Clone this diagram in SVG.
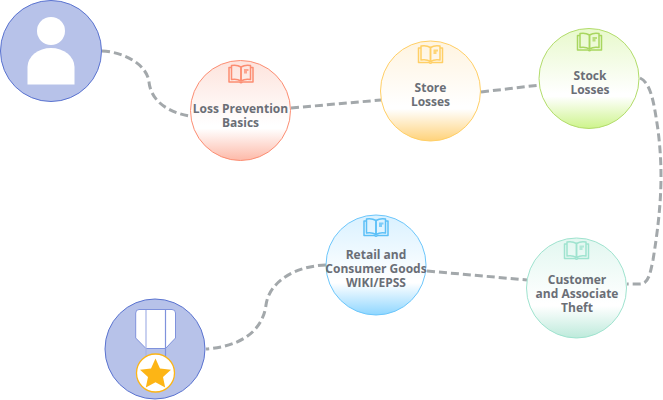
<svg xmlns="http://www.w3.org/2000/svg" width="663" height="400" viewBox="0 0 663 400">
<style>
.t{font-family:"Open Sans",sans-serif;font-weight:700;font-size:12px;fill:#6a6e76;text-anchor:middle}
.c{fill:none;stroke:#a3a8ab;stroke-width:3;stroke-dasharray:8 4}
.b{fill:none;stroke-width:1.500;stroke-linejoin:round}
.av{fill:#b7c2e9;stroke:#5a73d0;stroke-width:1}
</style>
<defs>
<linearGradient id="gr" x1="0" y1="0" x2="0" y2="1"><stop offset="0" stop-color="#fde3dc"/><stop offset=".65" stop-color="#fff"/><stop offset=".68" stop-color="#fff"/><stop offset="1" stop-color="#fdb9a8"/></linearGradient>
<linearGradient id="gy" x1="0" y1="0" x2="0" y2="1"><stop offset="0" stop-color="#fff4e0"/><stop offset=".65" stop-color="#fff"/><stop offset=".68" stop-color="#fff"/><stop offset="1" stop-color="#ffd27a"/></linearGradient>
<linearGradient id="gg" x1="0" y1="0" x2="0" y2="1"><stop offset="0" stop-color="#e8f9cc"/><stop offset=".65" stop-color="#fff"/><stop offset=".68" stop-color="#fff"/><stop offset="1" stop-color="#cdf48b"/></linearGradient>
<linearGradient id="gt" x1="0" y1="0" x2="0" y2="1"><stop offset="0" stop-color="#e2f7f0"/><stop offset=".65" stop-color="#fff"/><stop offset=".68" stop-color="#fff"/><stop offset="1" stop-color="#bdeadb"/></linearGradient>
<linearGradient id="gb" x1="0" y1="0" x2="0" y2="1"><stop offset="0" stop-color="#d9f1ff"/><stop offset=".65" stop-color="#fff"/><stop offset=".68" stop-color="#fff"/><stop offset="1" stop-color="#8ed6ff"/></linearGradient>
<g id="book">
<path class="b" d="M-9.500 -7H-12V7.500H-1.500Q0 9 1.500 7.500H12V-7H9.500"/>
<path class="b" d="M-9.500 -9Q-4 -10 0 -7.500V6.500Q-4 4 -9.500 5Z"/>
<path class="b" d="M9.500 -9Q4 -10 0 -7.500V6.500Q4 4 9.500 5Z"/>
<path d="M3 -5.500H7.500V-3.500H6V-1H3Z" stroke="none" opacity=".75" fill="currentColor"/>
</g>
</defs>
<g id="connectors">
<path class="c" d="M102 51C125 52 147 65 149 82C151 102 170 113 190 116"/>
<path class="c" d="M291 108L381 100"/>
<path class="c" d="M481 92L540 85"/>
<path class="c" d="M640 78C651 83 654 103 658 130C663 170 662 205 653 260C650 275 648 284 640 284L627 284"/>
<path class="c" d="M427 271L527 280"/>
<path class="c" d="M326 265C295 266 269 282 266 305C262 335 235 347 206 349"/>
</g>
<g id="start">
<circle class="av" cx="51" cy="51" r="50.500"/>
<circle cx="51" cy="31" r="14" fill="#fff"/>
<path d="M27.500 84.500V67A23.500 19 0 0 1 74.500 67V84.500Z" fill="#fff"/>
</g>
<g id="n1" color="#fc8d72">
<circle cx="240.500" cy="110.500" r="50" fill="url(#gr)" stroke="#fc8d72" stroke-width="1"/>
<use href="#book" x="241" y="74.500" style="stroke:#fc8d72"/>
<text class="t" x="240.500" y="112.500">Loss Prevention</text>
<text class="t" x="240.500" y="126.500">Basics</text>
</g>
<g id="n2" color="#ffc94f">
<circle cx="430.500" cy="91" r="50" fill="url(#gy)" stroke="#ffcf66" stroke-width="1"/>
<use href="#book" x="430.500" y="55" style="stroke:#ffcf66"/>
<text class="t" x="430.500" y="92">Store</text>
<text class="t" x="430.500" y="106">Losses</text>
</g>
<g id="n3" color="#a8d65f">
<circle cx="589" cy="78.500" r="50" fill="url(#gg)" stroke="#b2dc6b" stroke-width="1"/>
<use href="#book" x="589.500" y="42.500" style="stroke:#a8d65f"/>
<text class="t" x="590" y="80">Stock</text>
<text class="t" x="590" y="94">Losses</text>
</g>
<g id="n4" color="#9fe3cf">
<circle cx="576.500" cy="288" r="50" fill="url(#gt)" stroke="#9fe3cf" stroke-width="1"/>
<use href="#book" x="576.500" y="251" style="stroke:#9fe3cf"/>
<text class="t" x="577" y="283.500">Customer</text>
<text class="t" x="577" y="297.500">and Associate</text>
<text class="t" x="577" y="311.500">Theft</text>
</g>
<g id="n5" color="#5cc0f7">
<circle cx="376" cy="265" r="50" fill="url(#gb)" stroke="#6cc6fb" stroke-width="1"/>
<use href="#book" x="376" y="228" style="stroke:#5cc0f7"/>
<text class="t" x="376" y="259">Retail and</text>
<text class="t" x="376" y="273">Consumer Goods</text>
<text class="t" x="376" y="287">WIKI/EPSS</text>
</g>
<g id="end">
<circle class="av" cx="155" cy="349" r="50"/>
<path d="M139 309.500H172Q175.500 309.500 175.500 313V338L165.500 348.500H146L135.700 338V313Q135.700 309.500 139 309.500Z" fill="#fff" stroke="#7f92dc" stroke-width="1"/>
<path d="M146 310V357" stroke="#a5b3e6" stroke-width="1.200" fill="none"/>
<path d="M165.500 310V357" stroke="#7f92dc" stroke-width="1.200" fill="none"/>
<circle cx="155.500" cy="373" r="19" fill="#fff" stroke="#fdb515" stroke-width="1.300"/>
<path d="M155.500 358.500L160 368.500L171 369.800L163 377L165.200 387.500L155.500 382.300L145.800 387.500L148 377L140 369.800L151 368.500Z" fill="#fdb515"/>
</g>
</svg>
